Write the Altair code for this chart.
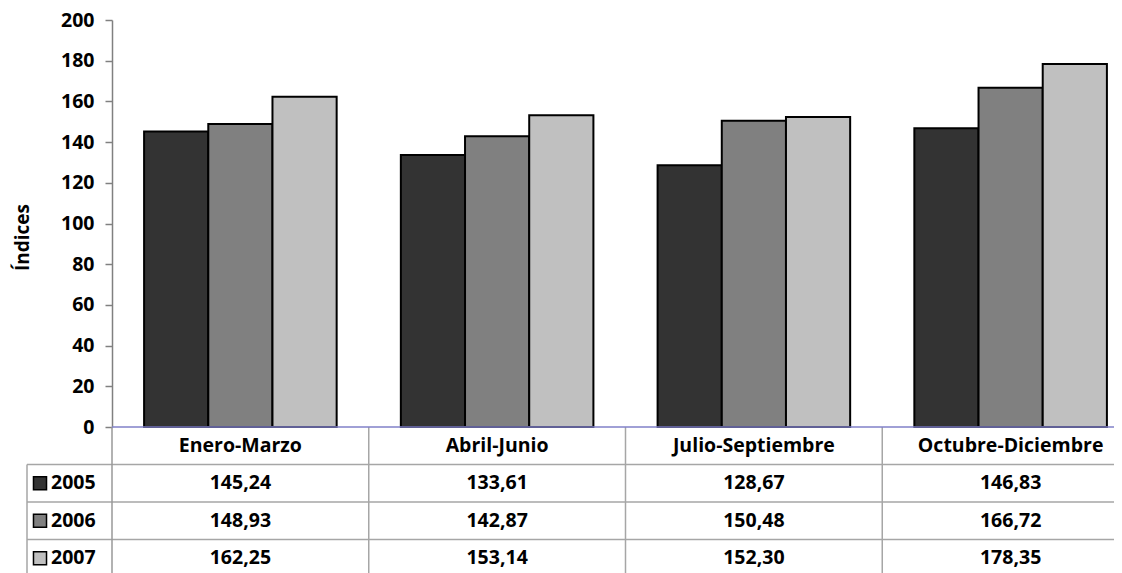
import altair as alt
import pandas as pd

categories = ["Enero-Marzo", "Abril-Junio", "Julio-Septiembre", "Octubre-Diciembre"]
years = ["2005", "2006", "2007"]
values_2005 = [145.24, 133.61, 128.67, 146.83]
values_2006 = [148.93, 142.87, 150.48, 166.72]
values_2007 = [162.25, 153.14, 152.30, 178.35]
colors = ["#333333", "#808080", "#C0C0C0"]
y_ticks = list(range(0, 201, 20))

FONT = "Open Sans"
FS = 19.5
W = 1002          # visible plot width
X_RANGE = 1027    # full width of the four categories (last one is cut at the edge)
H = 407
ROW = 37.5
row_order = ["header"] + years
T_TOP = H
T_BOT = H + ROW * len(row_order)

rows = []
for year, vals in zip(years, [values_2005, values_2006, values_2007]):
    for c, v in zip(categories, vals):
        rows.append({"cat": c, "year": year, "value": v})
df = pd.DataFrame(rows)

table_rows = [{"cat": c, "row": "header", "text": c} for c in categories]
for r in rows:
    table_rows.append({"cat": r["cat"], "row": r["year"],
                       "text": f"{r['value']:.2f}".replace(".", ",")})
tdf = pd.DataFrame(table_rows)
ydf = pd.DataFrame({"row": years})
cdf = pd.DataFrame({"cat": categories[1:]})
one = pd.DataFrame({"a": [0]})

color_scale = alt.Scale(domain=years, range=colors)

bars = alt.Chart(df).mark_bar(stroke="black", strokeWidth=2).encode(
    x=alt.X("cat:N", sort=categories, axis=None,
            scale=alt.Scale(domain=categories, range=[0, X_RANGE],
                            paddingInner=0.25, paddingOuter=0.125)),
    xOffset=alt.XOffset("year:N", sort=years,
                        scale=alt.Scale(domain=years, paddingInner=0, paddingOuter=0)),
    y=alt.Y("value:Q", scale=alt.Scale(domain=[0, 200], nice=False),
            axis=alt.Axis(values=y_ticks, title="Índices", grid=False,
                          domainColor="#808080", domainWidth=1.5,
                          tickColor="#808080", tickWidth=1.5, tickSize=7,
                          labelFont=FONT, labelFontSize=FS, labelFontWeight="bold",
                          labelColor="black", labelPadding=11,
                          titleFont=FONT, titleFontSize=19, titleFontWeight="bold",
                          titleColor="black", titlePadding=28, titleY=217)),
    color=alt.Color("year:N", scale=color_scale, legend=None),
)

xs = alt.Scale(domain=categories, range=[0, X_RANGE], paddingInner=0, paddingOuter=0)
ys = alt.Scale(domain=row_order, range=[T_TOP, T_BOT], paddingInner=0, paddingOuter=0)

texts = alt.Chart(tdf).mark_text(font=FONT, fontSize=FS, fontWeight="bold",
                                  color="black").encode(
    x=alt.X("cat:N", scale=xs, axis=None),
    y=alt.Y("row:N", scale=ys, axis=None),
    text="text:N",
)

hlines = alt.Chart(ydf).mark_rule(color="#A6A6A6", strokeWidth=1.5).encode(
    y=alt.Y("row:N", scale=ys, axis=None, bandPosition=0),
    x=alt.value(-85), x2=alt.value(W),
)

vlines = alt.Chart(cdf).mark_rule(color="#A6A6A6", strokeWidth=1.5).encode(
    x=alt.X("cat:N", scale=xs, axis=None, bandPosition=0),
    y=alt.value(T_TOP), y2=alt.value(T_BOT),
)

axis_ext = alt.Chart(one).mark_rule(color="#999999", strokeWidth=1.5).encode(
    x=alt.value(0), y=alt.value(T_TOP), y2=alt.value(T_BOT),
)

left_line = alt.Chart(one).mark_rule(color="#A6A6A6", strokeWidth=1.5).encode(
    x=alt.value(-85), y=alt.value(T_TOP + ROW), y2=alt.value(T_BOT),
)

baseline = alt.Chart(one).mark_rule(color="#8080C8", strokeWidth=1.5).encode(
    x=alt.value(0), x2=alt.value(W), y=alt.value(H),
)

keys = alt.Chart(ydf).mark_square(size=170, stroke="black", strokeWidth=1.5,
                                  opacity=1).encode(
    x=alt.value(-72),
    y=alt.Y("row:N", scale=ys, axis=None),
    color=alt.Color("row:N", scale=color_scale, legend=None),
)

key_labels = alt.Chart(ydf).mark_text(font=FONT, fontSize=FS, fontWeight="bold",
                                      color="black", align="left").encode(
    x=alt.value(-61),
    y=alt.Y("row:N", scale=ys, axis=None),
    text="row:N",
)

chart = alt.layer(
    vlines, hlines, axis_ext, left_line, bars, baseline, keys, key_labels, texts
).resolve_scale(
    x="independent", y="independent"
).properties(
    width=W, height=H,
    autosize=alt.AutoSizeParams(type="none"),
    padding={"left": 104, "top": 12, "right": 0, "bottom": 146},
    background="white",
).configure_view(stroke=None)

chart.save("out.html", embed_options={"renderer": "svg", "actions": False})
